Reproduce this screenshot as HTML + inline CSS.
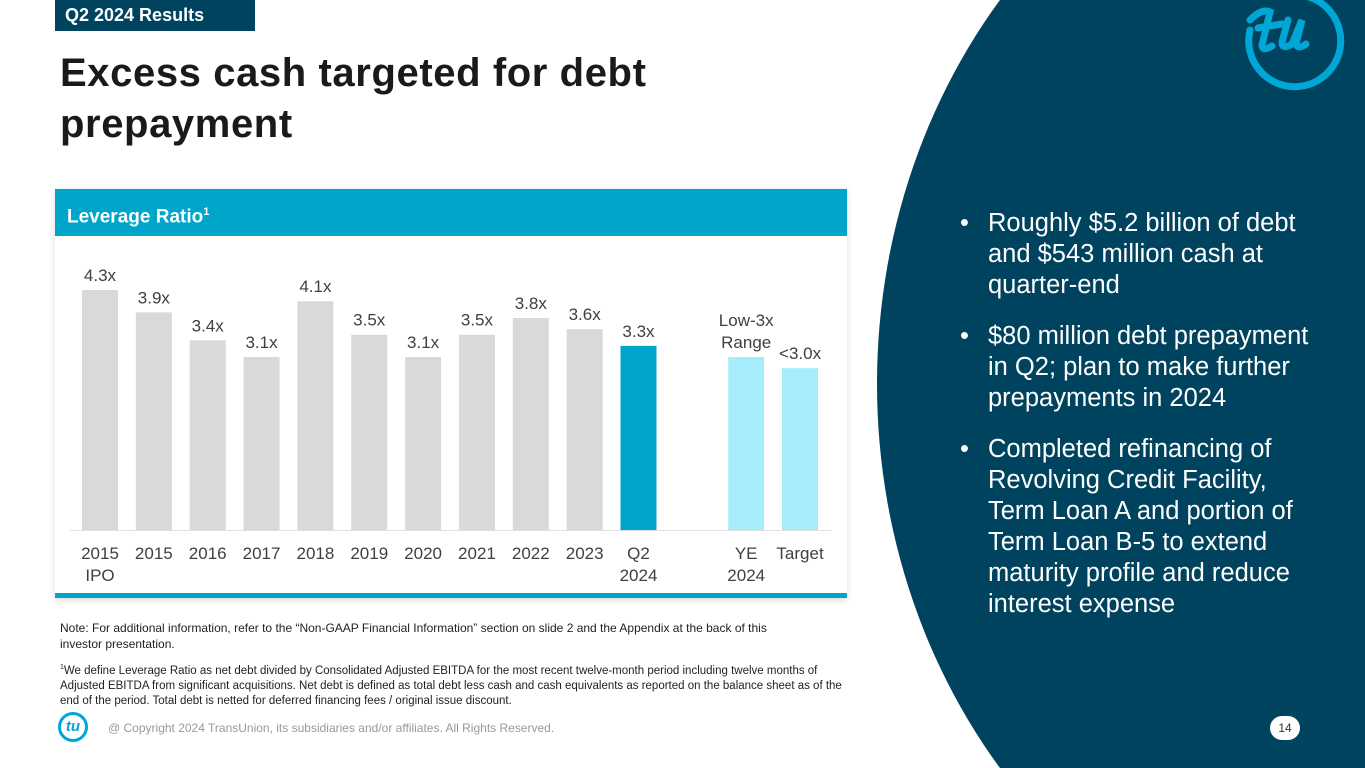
<!DOCTYPE html>
<html><head><meta charset="utf-8"><style>
*{margin:0;padding:0;box-sizing:border-box}
html,body{width:1365px;height:768px;overflow:hidden}
body{background:#fff;font-family:"Liberation Sans",Arial,sans-serif;position:relative}
.abs{position:absolute}
</style></head><body>
<svg class="abs" style="left:0;top:0" width="1365" height="768">
<ellipse cx="1420" cy="384" rx="543" ry="606" fill="#00435f"/>
<g fill="none" stroke="#00a6d6" stroke-width="7" stroke-linecap="round">
<path d="M1250 30 A46 46 0 1 0 1300 -5"/>
<path d="M1250 20 Q1262 8 1270 12 L1262 45 Q1262 52 1272 46"/>
<path d="M1258 28 L1282 24"/>
<path d="M1288 20 L1282 42 Q1282 50 1292 44 L1302 20 L1296 44 Q1298 50 1306 44"/>
</g>
</svg>
<div class="abs" style="left:55px;top:0;width:200px;height:31px;background:#00435f;color:#fff;font-weight:bold;font-size:18px;line-height:31px;padding-left:10px">Q2 2024 Results</div>
<div class="abs" style="left:60px;top:48px;font-size:40px;font-weight:bold;color:#1a1a1a;line-height:51px;letter-spacing:0.6px">Excess cash targeted for debt<br>prepayment</div>
<div class="abs" style="left:55px;top:189px;width:792px;height:409px;background:#fff;box-shadow:0 2px 6px rgba(0,0,0,.15)">
<div style="height:47px;background:#00a6ca;color:#fff;font-weight:bold;font-size:19px;line-height:47px;padding-left:12px">Leverage Ratio<sup style="font-size:11px">1</sup></div>
<div class="abs" style="left:0;bottom:0;width:792px;height:5px;background:#00a6ca"></div>
</div>
<svg id="chart" class="abs" style="left:0;top:0" width="1365" height="768"></svg>
<div class="abs" style="left:60px;top:620px;font-size:12px;color:#222;line-height:16px;width:720px">Note: For additional information, refer to the “Non-GAAP Financial Information” section on slide 2 and the Appendix at the back of this investor presentation.</div>
<div class="abs" style="left:60px;top:660px;font-size:11.5px;color:#222;line-height:15px;width:800px"><sup style="font-size:7px">1</sup>We define Leverage Ratio as net debt divided by Consolidated Adjusted EBITDA for the most recent twelve-month period including twelve months of Adjusted EBITDA from significant acquisitions. Net debt is defined as total debt less cash and cash equivalents as reported on the balance sheet as of the end of the period. Total debt is netted for deferred financing fees / original issue discount.</div>
<div class="abs" style="left:58px;top:712px;width:30px;height:30px;border:3px solid #00a6d6;border-radius:50%;color:#00a6d6;font-weight:bold;font-style:italic;font-size:15px;text-align:center;line-height:24px">tu</div>
<div class="abs" style="left:108px;top:721px;font-size:12px;color:#999">@ Copyright 2024 TransUnion, its subsidiaries and/or affiliates.  All Rights Reserved.</div>
<div class="abs" style="left:1270px;top:716px;width:30px;height:24px;border-radius:12px;background:#fff;color:#333;font-size:12px;text-align:center;line-height:24px">14</div>
<ul class="abs" style="left:960px;top:208px;width:350px;list-style:none;color:#fff;font-size:25.5px;line-height:31px">
<li style="position:relative;padding-left:28px;margin-bottom:20px"><span style="position:absolute;left:0">•</span>Roughly $5.2 billion of debt and $543 million cash at quarter-end</li>
<li style="position:relative;padding-left:28px;margin-bottom:20px"><span style="position:absolute;left:0">•</span>$80 million debt prepayment in Q2; plan to make further prepayments in 2024</li>
<li style="position:relative;padding-left:28px"><span style="position:absolute;left:0">•</span>Completed refinancing of Revolving Credit Facility, Term Loan A and portion of Term Loan B-5 to extend maturity profile and reduce interest expense</li>
</ul>
<script>
const categories=["2015|IPO","2015","2016","2017","2018","2019","2020","2021","2022","2023","Q2|2024","","YE|2024","Target"];
const values=[4.3,3.9,3.4,3.1,4.1,3.5,3.1,3.5,3.8,3.6,3.3,null,3.1,2.9];
const valueLabels=["4.3x","3.9x","3.4x","3.1x","4.1x","3.5x","3.1x","3.5x","3.8x","3.6x","3.3x","","Low-3x|Range","<3.0x"];
const barKinds=["hist","hist","hist","hist","hist","hist","hist","hist","hist","hist","current","","target","target"];
const NS="http://www.w3.org/2000/svg";
const svg=document.getElementById('chart');
const base=530, unit=55.8, x0=100, step=53.85, bw=36;
const xPos=i=>x0+i*step;
const yPos=v=>base-v*unit;
const colors={hist:"#d9d9d9",current:"#00a6ca",target:"#a6ecfa"};
function txt(x,y,s,name){const t=document.createElementNS(NS,'text');t.setAttribute('x',x);t.setAttribute('y',y);t.setAttribute('text-anchor','middle');t.setAttribute('font-size','17');t.setAttribute('fill','#404040');t.setAttribute('font-family','Liberation Sans, Arial, sans-serif');t.textContent=s;


svg.appendChild(t);}
const ax=document.createElementNS(NS,'line');ax.setAttribute('x1',70);ax.setAttribute('x2',832);ax.setAttribute('y1',base+0.5);ax.setAttribute('y2',base+0.5);ax.setAttribute('stroke','#e0e0e0');


svg.appendChild(ax);
values.forEach((v,i)=>{
 const cx=xPos(i);
 if(v!==null){
  const r=document.createElementNS(NS,'rect');
  r.setAttribute('x',cx-bw/2);r.setAttribute('y',yPos(v));r.setAttribute('width',bw);r.setAttribute('height',base-yPos(v));r.setAttribute('fill',colors[barKinds[i]]);
  
  
  svg.appendChild(r);
  const lines=valueLabels[i].split('|');
  lines.forEach((l,k)=>txt(cx,yPos(v)-9-(lines.length-1-k)*22,l,'value-label'));
 }
 categories[i].split('|').forEach((l,k)=>{if(l)txt(cx,559+k*22,l,'category-label');});
});
</script>
</body></html>
